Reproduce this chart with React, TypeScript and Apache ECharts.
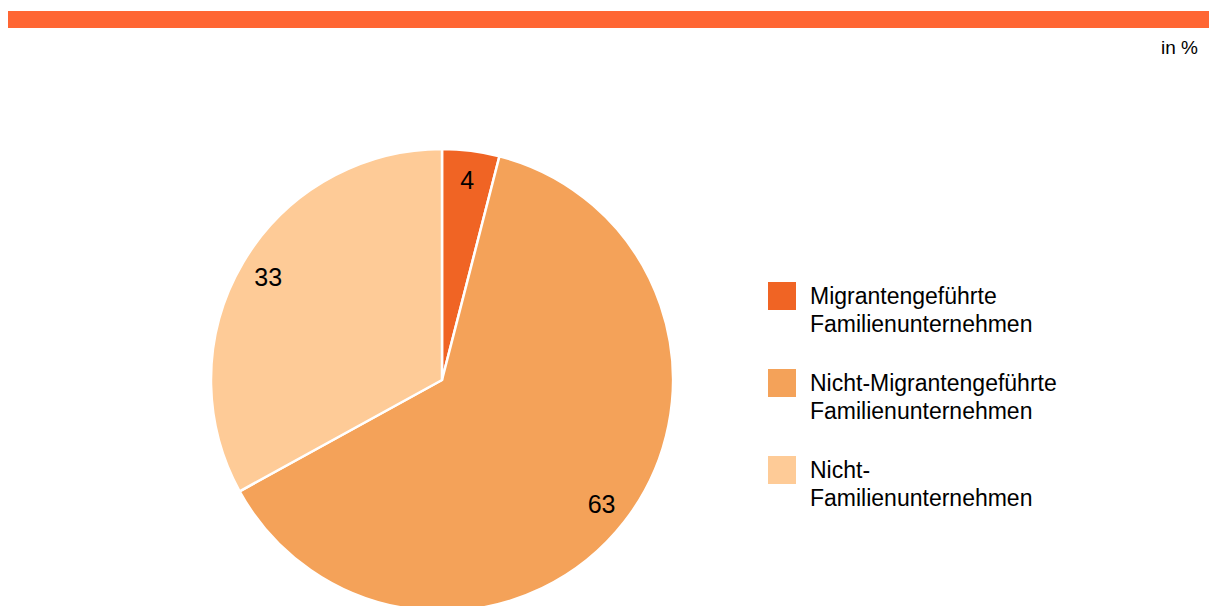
import React, { useEffect, useRef } from "react";
import * as echarts from "echarts";

const categories = [
  "Migrantengeführte\nFamilienunternehmen",
  "Nicht-Migrantengeführte\nFamilienunternehmen",
  "Nicht-\nFamilienunternehmen",
];
const values = [4, 63, 33];
const colors = ["#F06424", "#F4A259", "#FECB97"];
const unitLabel = "in %";

const FONT = "Liberation Sans, Arial, sans-serif";

export default function App() {
  const ref = useRef<HTMLDivElement>(null);
  useEffect(() => {
    document.body.style.margin = "0";
    const chart = echarts.init(ref.current!, null, { renderer: "svg" });
    const data = categories.map((name, i) => ({
      name,
      value: values[i],
      itemStyle: { color: colors[i] },
    }));
    chart.setOption({
      animation: false,
      backgroundColor: "#ffffff",
      textStyle: { fontFamily: FONT },
      graphic: [
        { type: "rect", shape: { x: 8, y: 11, width: 1201, height: 17 }, style: { fill: "#FF6633" } },
        {
          type: "text",
          right: 11,
          top: 38,
          style: { text: unitLabel, fontSize: 19, fill: "#000", fontFamily: FONT },
        },
      ],
      legend: {
        orient: "vertical",
        left: 768,
        top: 275,
        padding: 0,
        icon: "path://M0,0H28V28H0Z M0,56L28,56",
        itemWidth: 28,
        itemHeight: 56,
        itemGap: 17,
        selectedMode: false,
        data: categories,
        itemStyle: { borderWidth: 0 },
        textStyle: {
          fontSize: 23,
          lineHeight: 28,
          color: "#000",
          padding: [14, 0, 0, 9],
          fontFamily: FONT,
        },
      },
      series: [
        {
          type: "pie",
          center: [442, 380],
          radius: [0, 231],
          startAngle: 90,
          clockwise: true,
          silent: true,
          data,
          itemStyle: { borderColor: "#ffffff", borderWidth: 2.5 },
          label: { show: false },
          labelLine: { show: false },
        },
        {
          type: "pie",
          center: [442, 380],
          radius: [168, 230],
          startAngle: 90,
          clockwise: true,
          silent: true,
          legendHoverLink: false,
          data: categories.map((name, i) => ({ name, value: values[i] })),
          itemStyle: { color: "rgba(0,0,0,0)", borderWidth: 0 },
          label: {
            show: true,
            position: "inside",
            formatter: "{c}",
            fontSize: 25,
            color: "#000",
            fontFamily: FONT,
          },
          labelLine: { show: false },
        },
      ],
    });
    return () => chart.dispose();
  }, []);
  return <div ref={ref} style={{ width: 1209, height: 606 }} />;
}
